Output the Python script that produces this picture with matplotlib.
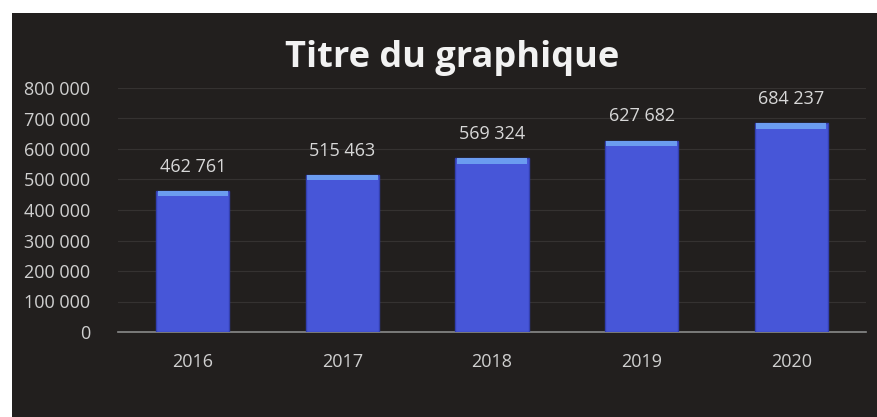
import matplotlib.pyplot as plt
from matplotlib.patches import Rectangle

# chart data
years = ['2016', '2017', '2018', '2019', '2020']
values = [462761, 515463, 569324, 627682, 684237]
y_ticks = [0, 100000, 200000, 300000, 400000, 500000, 600000, 700000, 800000]

def fr(v):
    # french style thousands separator
    return f'{v:,}'.replace(',', ' ')

plt.rcParams['font.family'] = ['Open Sans', 'DejaVu Sans']

fig = plt.figure(figsize=(8.78, 4.17), dpi=100, facecolor='white')
# dark chart background (photo of an excel chart)
fig.patches.append(Rectangle((12/878, 0), 1, 1 - 13/417, transform=fig.transFigure,
                             facecolor='#221f1e', edgecolor='none', zorder=0))

ax = fig.add_axes([118/878, 1 - 332/417, (866-118)/878, 244/417])
ax.set_zorder(2)
ax.set_facecolor('none')

x = list(range(len(years)))
ax.bar(x, values, width=0.49, color='#4756d8', edgecolor='#3340b0', linewidth=1.0, zorder=3)
# light bevel strip at the top of each bar
bevel = 18000
ax.bar(x, [bevel] * len(values), bottom=[v - bevel for v in values], width=0.47,
       color='#6b9cf0', edgecolor='none', zorder=4)

for i, v in zip(x, values):
    ax.annotate(fr(v), (i, v), xytext=(0, 11), textcoords='offset points',
                ha='center', va='bottom', color='#d8d8d8', fontsize=13)

ax.set_xlim(-0.5, len(years) - 0.5)
ax.set_ylim(0, 800000)
ax.set_xticks(x)
ax.set_xticklabels(years, color='#d0d0d0', fontsize=13)
ax.set_yticks(y_ticks)
ax.set_yticklabels([fr(v) for v in y_ticks], color='#d0d0d0', fontsize=13)
ax.tick_params(axis='both', length=0)
ax.tick_params(axis='x', pad=15)
ax.tick_params(axis='y', pad=20)
ax.grid(axis='y', color='#353231', linewidth=0.8, zorder=0)

for s in ['top', 'right', 'left']:
    ax.spines[s].set_visible(False)
ax.spines['bottom'].set_color('#8a8a8a')
ax.spines['bottom'].set_linewidth(1.2)

fig.text(452/878, 1 - 58/417, 'Titre du graphique', ha='center', va='center',
         color='#f2f2f2', fontsize=26, fontweight='bold', zorder=3)

fig.savefig('out.png', dpi=100, facecolor='white')
